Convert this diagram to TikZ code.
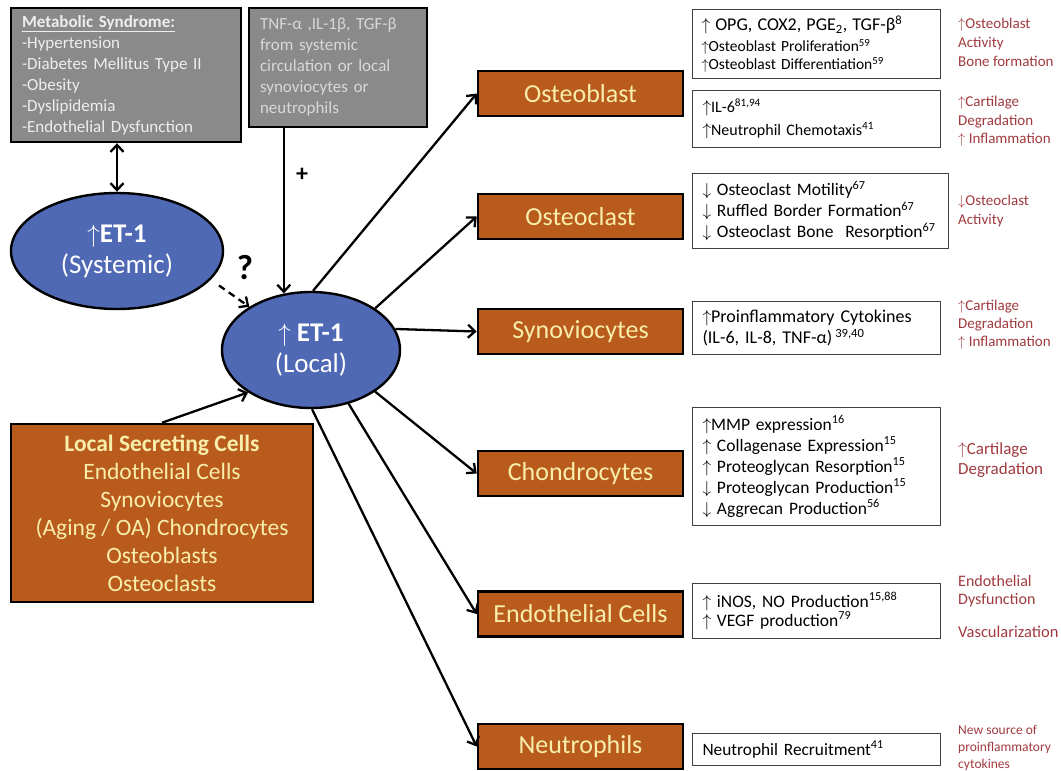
\documentclass[tikz,border=0pt]{standalone}
\usepackage{fontspec}
\setmainfont{Carlito}
\usetikzlibrary{arrows.meta,shapes.geometric}
\definecolor{orng}{HTML}{B85B1D}
\definecolor{blu}{HTML}{4F69B5}
\definecolor{gry}{HTML}{8A8A8A}
\definecolor{ylw}{HTML}{F8EEAA}
\definecolor{drd}{HTML}{A03A3E}
\definecolor{lgt}{HTML}{EEEEEE}
\definecolor{lgt2}{HTML}{D8D8D8}
\newcommand\UA{\ensuremath{\uparrow}}
\newcommand\DA{\ensuremath{\downarrow}}
\newcommand\fs[2]{\fontsize{#1}{#2}\selectfont}
\begin{document}
\begin{tikzpicture}[x=1pt,y=-1pt,
  arr/.style={line width=2.3pt,-{Straight Barb[length=7pt,width=13pt,line width=2.3pt]}},
  darr/.style={line width=2.3pt,{Straight Barb[length=7pt,width=13pt,line width=2.3pt]}-{Straight Barb[length=7pt,width=13pt,line width=2.3pt]}},
  graybox/.style={draw=black,line width=2.4pt,fill=gry,align=left,inner sep=0pt},
  ell/.style={ellipse,draw=black,line width=2.4pt,fill=blu,text=white,inner sep=0pt,align=center,font=\fs{27}{31}},
  obox/.style={draw=black,line width=2.6pt,fill=orng,text=ylw,minimum width=205pt,minimum height=45pt,inner sep=0pt,font=\fs{26}{28}},
  wbox/.style={draw=black!75,line width=1pt,fill=white,align=left,inner sep=0pt,anchor=north west},
  rtext/.style={text=drd,align=left,inner sep=0pt,anchor=west}
]
\useasboundingbox (0,0) rectangle (1061,771);

% grey boxes
\node[graybox,minimum width=230pt,minimum height=134pt,text width=208pt,text=lgt,font=\fs{17}{21}] (meta) at (126,75)
  {\underline{\textbf{Metabolic Syndrome:}}\\-Hypertension\\-Diabetes Mellitus Type II\\-Obesity\\-Dyslipidemia\\-Endothelial Dysfunction};
\node[graybox,minimum width=178pt,minimum height=119pt,text width=156pt,text=lgt2,font=\fs{17}{21}] (tnf) at (338,67.5)
  {TNF-α ,IL-1β, TGF-β\\from systemic\\circulation or local\\synoviocytes or\\neutrophils};

% ellipses
\node[ell,minimum width=212pt,minimum height=116pt] (sys) at (117,251) {\textbf{\UA ET-1}\\(Systemic)};
\node[ell,minimum width=178pt,minimum height=116pt] (loc) at (311,350) {\textbf{\UA\ ET-1}\\(Local)};

% local secreting cells
\node[draw=black,line width=2.6pt,fill=orng,text=ylw,minimum width=302pt,minimum height=178pt,align=center,font=\fs{23.5}{28},inner sep=0pt] (lsc) at (162,513)
  {\textbf{Local Secreting Cells}\\Endothelial Cells\\Synoviocytes\\(Aging / OA) Chondrocytes\\Osteoblasts\\Osteoclasts};

% labels
\node[font=\bfseries\fs{35}{36},inner sep=0pt] (q) at (245,268) {?};
\node[font=\bfseries\fs{24}{24},inner sep=0pt] (plus) at (302,175) {+};

% orange target boxes
\node[obox] (ob) at (580.5,93.5) {Osteoblast};
\node[obox] (oc) at (580.5,216.5) {Osteoclast};
\node[obox] (sy) at (580.5,331.5) {Synoviocytes};
\node[obox] (ch) at (580.5,473.5) {Chondrocytes};
\node[obox] (en) at (580.5,614) {Endothelial Cells};
\node[obox] (ne) at (580.5,746.5) {Neutrophils};

% white effect boxes
\node[wbox,minimum width=248pt,minimum height=69pt,text width=230pt,font=\fs{15.5}{18}] (w1) at (692,9)
  {{\fs{18}{18}\UA\ OPG, COX2, PGE\textsubscript{2}, TGF-β\textsuperscript{8}}\\[3pt]\UA Osteoblast Proliferation\textsuperscript{59}\\\UA Osteoblast Differentiation\textsuperscript{59}};
\node[wbox,minimum width=248pt,minimum height=57pt,text width=228pt,font=\fs{16}{23}] (w2) at (692,90)
  {\UA IL-6\textsuperscript{81,94}\\\UA Neutrophil Chemotaxis\textsuperscript{41}};
\node[wbox,minimum width=256pt,minimum height=75pt,text width=236pt,font=\fs{17.5}{21}] (w3) at (692,173)
  {\DA\ Osteoclast Motility\textsuperscript{67}\\\DA\ Ruffled Border Formation\textsuperscript{67}\\\DA\ Osteoclast Bone\ \ Resorption\textsuperscript{67}};
\node[wbox,minimum width=248pt,minimum height=53pt,text width=228pt,font=\fs{18}{21}] (w4) at (692,301)
  {\UA Proinflammatory Cytokines\\(IL-6, IL-8, TNF-α)\,\textsuperscript{39,40}};
\node[wbox,minimum width=248pt,minimum height=118pt,text width=228pt,font=\fs{17.5}{21}] (w5) at (692,407)
  {\UA MMP expression\textsuperscript{16}\\\UA\ Collagenase Expression\textsuperscript{15}\\\UA\ Proteoglycan Resorption\textsuperscript{15}\\\DA\ Proteoglycan Production\textsuperscript{15}\\\DA\ Aggrecan Production\textsuperscript{56}};
\node[wbox,minimum width=248pt,minimum height=55pt,text width=228pt,font=\fs{17.5}{19}] (w6) at (692,583)
  {\UA\ iNOS, NO Production\textsuperscript{15,88}\\\UA\ VEGF production\textsuperscript{79}};
\node[wbox,minimum width=248pt,minimum height=32pt,text width=228pt,font=\fs{17.3}{19}] (w7) at (692,733)
  {Neutrophil Recruitment\textsuperscript{41}};

% red outcome texts
\node[rtext,font=\fs{15}{19}] (r1) at (958,42) {\UA Osteoblast\\Activity\\Bone formation};
\node[rtext,font=\fs{15}{18.5}] (r2) at (958,121.5) {\UA Cartilage\\Degradation\\\UA\ Inflammation};
\node[rtext,font=\fs{15}{19}] (r3) at (958,210.5) {\DA Osteoclast\\Activity};
\node[rtext,font=\fs{15}{18}] (r4) at (958,325) {\UA Cartilage\\Degradation\\\UA\ Inflammation};
\node[rtext,font=\fs{17}{20}] (r5) at (958,460) {\UA Cartilage\\Degradation};
\node[rtext,font=\fs{16}{18}] (r6) at (958,591.5) {Endothelial\\Dysfunction};
\node[rtext,font=\fs{16.5}{18}] (r7) at (958,632) {Vascularization};
\node[rtext,font=\fs{13.5}{17}] (r8) at (958,748) {New source of\\proinflammatory\\cytokines};

% connectors
\draw[darr] (meta.south -| sys.north) -- (sys.north);
\draw[arr] ([xshift=36pt]tnf.south west) -- ([xshift=36pt]tnf.south west |- loc.115);
\draw[arr,dash pattern=on 7pt off 5pt,shorten <=10pt] (sys.-17) -- (loc.145);
\draw[arr] (lsc.north) -- (loc.214);
\draw[arr] (loc.88) -- (ob.west);
\draw[arr] (loc.33) -- (oc.west);
\draw[arr] (loc.14) -- (sy.west);
\draw[arr] (loc.-33) -- (ch.west);
\draw[arr] (loc.-55) -- (en.west);
\draw[arr] (loc.-89) -- (ne.west);
\end{tikzpicture}
\end{document}
